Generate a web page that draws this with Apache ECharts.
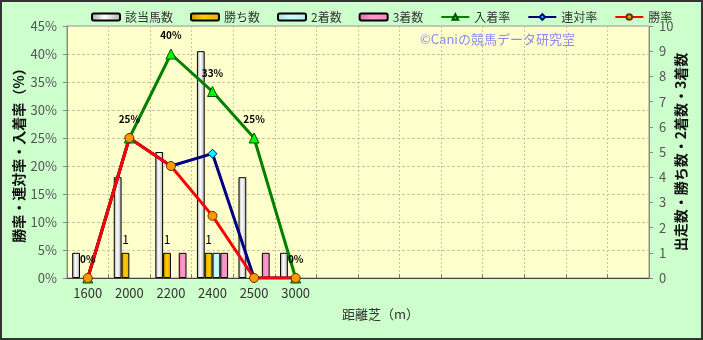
<!DOCTYPE html>
<html><head><meta charset="utf-8">
<script src="https://cdn.jsdelivr.net/npm/echarts@6/dist/echarts.min.js"></script>
<style>html,body{margin:0;padding:0;background:#ccffcc}#c{width:703px;height:340px}</style>
</head><body><div id="c"></div>
<script>
const categories = ['1600','2000','2200','2400','2500','3000','','','','','','','',''];
const runners   = [1, 4, 5, 9, 4, 1];
const wins      = [0, 1, 1, 1, 0, 0];
const seconds   = [0, 0, 0, 1, 0, 0];
const thirds    = [0, 0, 1, 1, 1, 0];
const placeRate = [0, 25, 40, 33.3, 25, 0];
const quinRate  = [0, 25, 20, 22.2, 0, 0];
const winRate   = [0, 25, 20, 11.1, 0, 0];
const placeLabels = ['0%','25%','40%','33%','25%','0%'];
const leftTicks = [0, 45, 5];
const rightTicks = [0, 10, 1];

const FONT = '"Noto Sans CJK JP", sans-serif';
function grad(c1, c2, c3) {
  return new echarts.graphic.LinearGradient(0, 0, 1, 0, [
    {offset: 0, color: c1}, {offset: 0.45, color: c2}, {offset: 1, color: c3}]);
}
const nz = arr => arr.map(v => v === 0 ? '-' : v);
const chart = echarts.init(document.getElementById('c'));
const barCommon = {type: 'bar', yAxisIndex: 1, barGap: '0%', barCategoryGap: '25%'};
const gridColor = '#c4c4a8';
chart.setOption({
  backgroundColor: '#ccffcc',
  textStyle: {fontFamily: FONT},
  animation: false,
  legend: {
    top: 6, left: 86, width: 620, itemWidth: 28, itemHeight: 7, itemGap: 17,
    textStyle: {fontFamily: FONT, fontSize: 12, color: '#333'},
    data: ['該当馬数','勝ち数','2着数','3着数','入着率','連対率','勝率']
  },
  grid: {left: 67, right: 54, top: 26, bottom: 62, show: true,
    backgroundColor: '#ffffcc', borderColor: '#999', borderWidth: 1},
  xAxis: {
    type: 'category', data: categories,
    axisLine: {lineStyle: {color: '#444', width: 1}},
    axisTick: {show: true, inside: true, length: 4, interval: 0, lineStyle: {color: '#777'}},
    axisLabel: {interval: 0, margin: 9, fontSize: 13, color: '#333', fontFamily: FONT},
    splitLine: {show: true, interval: 0, lineStyle: {type: [2, 2], color: gridColor}}
  },
  yAxis: [{
    type: 'value', min: leftTicks[0], max: leftTicks[1], interval: leftTicks[2],
    name: '勝率・連対率・入着率（%）', nameLocation: 'middle', nameGap: 41, nameMoveOverlap: false,
    nameTextStyle: {fontSize: 14, fontWeight: 'bold', color: '#111', fontFamily: FONT},
    axisLine: {show: true, lineStyle: {color: '#888'}},
    axisTick: {show: true, length: 4, lineStyle: {color: '#888'}},
    axisLabel: {formatter: '{value}%', fontSize: 13, color: '#555', margin: 10, fontFamily: FONT},
    splitLine: {show: true, lineStyle: {type: [3, 2], color: gridColor}}
  }, {
    type: 'value', min: rightTicks[0], max: rightTicks[1], interval: rightTicks[2],
    name: '出走数・勝ち数・2着数・3着数', nameLocation: 'middle', nameGap: 25, nameMoveOverlap: false,
    nameTextStyle: {fontSize: 14, fontWeight: 'bold', color: '#111', fontFamily: FONT},
    axisLine: {show: true, lineStyle: {color: '#888'}},
    axisTick: {show: true, length: 4, lineStyle: {color: '#888'}},
    axisLabel: {fontSize: 13, color: '#555', margin: 10, fontFamily: FONT},
    splitLine: {show: false}
  }],
  graphic: [
    {type: 'text', left: 420, top: 33, style: {text: '©Caniの競馬データ研究室', fill: '#8c8cf0', font: '13px ' + FONT}},
    {type: 'text', left: 342, top: 308, style: {text: '距離芝（m）', fill: '#333', font: '13px ' + FONT}},
    {type: 'rect', shape: {x: 1, y: 1, width: 701, height: 338}, style: {fill: 'none', stroke: '#333', lineWidth: 2}, silent: true}
  ],
  series: [
    Object.assign({}, barCommon, {name: '該当馬数', data: nz(runners),
      itemStyle: {color: grad('#a8a8a8', '#ffffff', '#b0b0b0'), borderColor: '#000', borderWidth: 1}}),
    Object.assign({}, barCommon, {name: '勝ち数', data: nz(wins),
      itemStyle: {color: grad('#c89400', '#ffcc00', '#e0b000'), borderColor: '#000', borderWidth: 1},
      label: {show: true, position: 'top', distance: 7, color: '#000', fontSize: 12, fontFamily: FONT}}),
    Object.assign({}, barCommon, {name: '2着数', data: nz(seconds),
      itemStyle: {color: grad('#a6e0e6', '#ccffff', '#b8ecf0'), borderColor: '#000', borderWidth: 1}}),
    Object.assign({}, barCommon, {name: '3着数', data: nz(thirds),
      itemStyle: {color: grad('#e070b0', '#ff99cc', '#f08cc0'), borderColor: '#000', borderWidth: 1}}),
    {type: 'line', name: '入着率', yAxisIndex: 0, data: placeRate,
      lineStyle: {color: '#008000', width: 3}, symbol: 'triangle', symbolSize: 10,
      itemStyle: {color: '#00ff00', borderColor: '#005000', borderWidth: 1},
      label: {show: true, position: 'top', distance: 8, fontSize: 10, fontWeight: 'bold', color: '#000',
        fontFamily: FONT, formatter: p => placeLabels[p.dataIndex]}},
    {type: 'line', name: '連対率', yAxisIndex: 0, data: quinRate,
      lineStyle: {color: '#000080', width: 3}, symbol: 'diamond', symbolSize: 9,
      itemStyle: {color: '#00ffff', borderColor: '#000080', borderWidth: 1}},
    {type: 'line', name: '勝率', yAxisIndex: 0, data: winRate,
      lineStyle: {color: '#ff0000', width: 3}, symbol: 'circle', symbolSize: 9,
      itemStyle: {color: '#ff9900', borderColor: '#663300', borderWidth: 1}}
  ]
});
</script></body></html>
